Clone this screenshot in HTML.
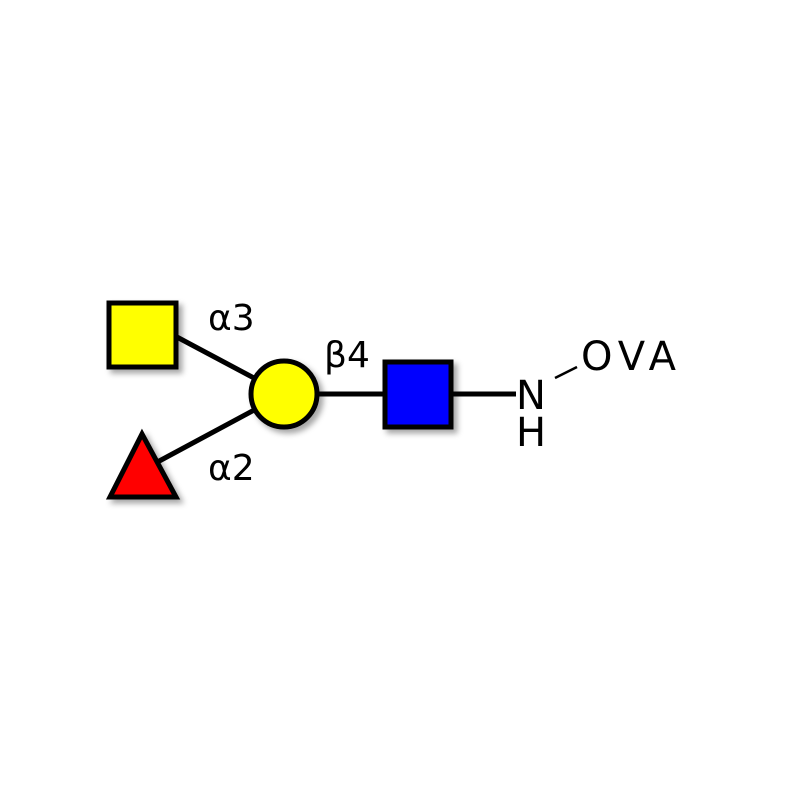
<!DOCTYPE html>
<html><head><style>body{margin:0;background:#fff}</style></head><body>
<svg width="800" height="800" xmlns="http://www.w3.org/2000/svg">
<defs><filter id="s" x="-30%" y="-30%" width="160%" height="160%"><feDropShadow dx="4" dy="4" stdDeviation="3" flood-color="#000" flood-opacity="0.35"/></filter></defs>
<rect width="800" height="800" fill="#fff"/>
<g stroke="#000" stroke-width="5">
<line x1="175" y1="336" x2="284" y2="394"/>
<line x1="150" y1="466" x2="284" y2="394"/>
<line x1="284" y1="394" x2="418" y2="394"/>
<line x1="418" y1="394" x2="516" y2="394"/>
</g>
<line x1="555" y1="378" x2="577" y2="367" stroke="#000" stroke-width="2.5"/>
<g stroke="#000" stroke-width="5" filter="url(#s)">
<rect x="109" y="303" width="67" height="64" fill="#ffff00"/>
<circle cx="284" cy="394" r="33" fill="#ffff00"/>
<rect x="385" y="362" width="66" height="65" fill="#0000ff"/>
<polygon points="142,434 110,497 176,497" fill="#ff0000"/>
</g>
<g font-family="'DejaVu Sans','Liberation Sans',sans-serif" font-size="36" fill="#000">
<text x="208" y="330">α3</text>
<text x="324" y="367">β4</text>
<text x="208" y="480">α2</text>
<text x="516" y="409" font-size="40">N</text>
<text x="516" y="446" font-size="40">H</text>
<text x="581" y="370" font-size="40" letter-spacing="6">OVA</text>
</g>
</svg>
</body></html>
